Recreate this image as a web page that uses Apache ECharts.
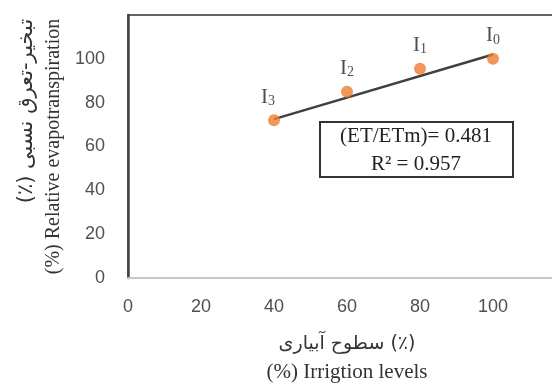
<!DOCTYPE html>
<html>
<head>
<meta charset="utf-8">
<script src="https://cdn.jsdelivr.net/npm/echarts@6/dist/echarts.min.js"></script>
<style>
  html, body { margin: 0; padding: 0; background: #ffffff; }
  #chart { width: 552px; height: 385px; }
</style>
</head>
<body>
<div id="chart"></div>
<script>
  // data
  var irrigation = [40, 60, 80, 100];
  var relativeET = [72, 85, 95.5, 100];
  var pointNames = ['3', '2', '1', '0'];   // subscripts of I
  var trendX = [40, 100];
  var trendY = [72.5, 102];
  var xTicks = [0, 20, 40, 60, 80, 100, 120];
  var yTicks = [0, 20, 40, 60, 80, 100, 120];
  var eqText = ['(ET/ETm)= 0.481', 'R² = 0.957'];

  var serif = '"Liberation Serif", "DejaVu Serif", serif';
  var persian = '"DejaVu Sans", sans-serif';

  var myChart = echarts.init(document.getElementById('chart'));

  myChart.setOption({
    animation: false,
    backgroundColor: '#ffffff',
    grid: {
      left: 128,
      top: 15,
      right: -14,
      bottom: 107,
      outerBoundsMode: 'none',
      show: true,
      borderColor: '#666',
      borderWidth: 2
    },
    xAxis: {
      type: 'value',
      min: xTicks[0],
      max: xTicks[xTicks.length - 1],
      interval: 20,
      splitLine: {show: false},
      axisTick: {show: false},
      axisLine: {show: true, lineStyle: {color: '#c8c8c8', width: 2}},
      axisLabel: {
        margin: 20,
        fontFamily: '"Liberation Sans", sans-serif',
        fontSize: 18,
        color: '#505050'
      },
      nameLocation: 'middle',
      nameGap: 52,
      name: '{fa|سطوح آبیاری (٪)}\n{en|(%) Irrigtion levels}',
      nameTextStyle: {
        rich: {
          fa: {fontFamily: persian, fontSize: 19, lineHeight: 28, color: '#333'},
          en: {fontFamily: serif, fontSize: 21, lineHeight: 28, color: '#333'}
        }
      }
    },
    yAxis: {
      type: 'value',
      min: yTicks[0],
      max: yTicks[yTicks.length - 1],
      interval: 20,
      splitLine: {show: false},
      axisTick: {show: false},
      axisLine: {show: true, lineStyle: {color: '#444', width: 2.5}},
      axisLabel: {
        margin: 23,
        showMaxLabel: false,
        fontFamily: '"Liberation Sans", sans-serif',
        fontSize: 18,
        color: '#505050'
      },
      nameLocation: 'middle',
      nameRotate: 90,
      nameGap: 58,
      name: '{fa|(٪) تبخیر-تعرق نسبی}\n{en|(%) Relative evapotranspiration}',
      nameTextStyle: {
        rich: {
          fa: {fontFamily: persian, fontSize: 21, lineHeight: 28, color: '#333', align: 'right'},
          en: {fontFamily: serif, fontSize: 20, lineHeight: 28, color: '#333', align: 'right'}
        }
      }
    },
    series: [
      {
        // linear trend line
        type: 'line',
        data: trendX.map(function (x, i) { return [x, trendY[i]]; }),
        symbol: 'none',
        lineStyle: {color: '#404040', width: 2.5},
        z: 2
      },
      {
        type: 'scatter',
        data: irrigation.map(function (x, i) { return [x, relativeET[i]]; }),
        symbolSize: 12,
        itemStyle: {color: '#ED7D31'},
        z: 3,
        label: {
          show: true,
          position: 'top',
          distance: 6,
          formatter: function (p) {
            return '{i|I}{s|' + pointNames[p.dataIndex] + '}';
          },
          rich: {
            i: {fontFamily: serif, fontSize: 21, color: '#222'},
            s: {fontFamily: serif, fontSize: 14, color: '#222', padding: [8, 0, 0, 0]}
          }
        },
        labelLayout: function (params) {
          // the first label sits up and to the left of its point
          if (params.dataIndex === 0) {
            return {dx: -6, dy: 0};
          }
          return {};
        }
      }
    ],
    graphic: [
      {
        type: 'rect',
        shape: {x: 320, y: 122, width: 193, height: 55},
        style: {fill: '#fff', stroke: '#333', lineWidth: 2},
        z: 10
      },
      {
        type: 'text',
        x: 416,
        y: 150,
        style: {
          text: eqText.join('\n'),
          font: '21px ' + serif,
          fill: '#222',
          align: 'center',
          verticalAlign: 'middle',
          lineHeight: 28
        },
        z: 11
      }
    ]
  });
</script>
</body>
</html>
